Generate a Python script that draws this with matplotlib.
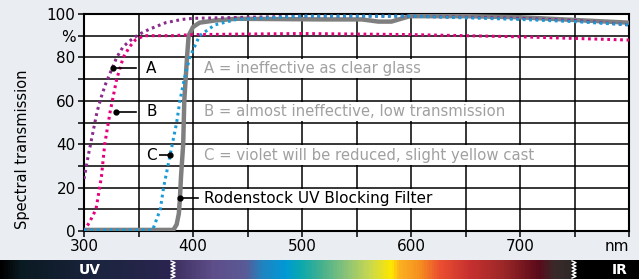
import numpy as np
import matplotlib.pyplot as plt
from matplotlib.colors import LinearSegmentedColormap

# curve data (wavelength nm, transmission %)
wl_a = [300, 304, 308, 312, 316, 320, 325, 330, 336, 343, 350, 360, 375, 390, 400, 500, 600, 700, 750, 800]
tr_a = [24, 35, 45, 55, 62, 68, 74, 80, 85, 88, 90.5, 93, 96, 97.5, 98, 99, 99, 98, 97, 95]

wl_b = [300, 305, 311, 316, 319, 324, 326, 330, 336, 342, 347, 355, 380, 400, 500, 600, 700, 800]
tr_b = [0, 4, 10, 25, 40, 55, 60, 70, 80, 85, 88, 90, 90, 90.5, 91, 90.5, 89.5, 88]

wl_c = [300, 363, 370, 373, 379, 381, 385, 388, 392, 397, 406, 420, 440, 500, 600, 700, 750, 800]
tr_c = [0.5, 0.5, 10, 20, 35, 40, 50, 60, 70, 80, 90, 95, 97.5, 99, 99, 97.5, 96.5, 95]

wl_r = [300, 382, 385, 387, 388, 389, 391, 392, 394.5, 396, 400, 406, 420, 440, 520, 555, 570, 582, 599, 650, 700, 800]
tr_r = [0.5, 0.5, 3, 8, 15, 25, 40, 60, 80, 90, 94, 96, 97, 97.8, 97.5, 97.5, 96.5, 96.5, 99, 99, 98.5, 96]

labels_grey = ["A = ineffective as clear glass",
               "B = almost ineffective, low transmission",
               "C = violet will be reduced, slight yellow cast"]

spec_pos = [0, 20, 100, 170, 172, 213, 245, 262, 285, 300, 320, 345, 370, 392, 400, 420, 440, 470, 505, 540, 556, 572, 575, 639]
spec_col = ['#000000', '#0a1a22', '#1c2440', '#2a2450', '#3c2f5e', '#5e4e8a', '#5a5a96', '#2084c0',
            '#0099d6', '#0aa8b0', '#40b090', '#86c27a', '#c8d850', '#ffe800', '#fcb020', '#f59020',
            '#ec5030', '#c83030', '#9c2828', '#5a0a1a', '#3a2a2a', '#302828', '#000000', '#000000']

plt.rcParams['font.family'] = ['DejaVu Sans']
fig = plt.figure(figsize=(6.39, 2.79), dpi=100, facecolor='#eaeef2')

# spectrum bar along the bottom
bar = fig.add_axes([0, 0, 1, 19/279])
cmap = LinearSegmentedColormap.from_list('spec', list(zip(np.array(spec_pos)/639, spec_col)))
bar.imshow(np.linspace(0, 1, 639)[None, :], aspect='auto', cmap=cmap, extent=[0, 639, 0, 1])
bar.set_xlim(0, 639)
bar.set_ylim(0, 1)
bar.axis('off')
for x0 in [173, 574]:
    zy = np.linspace(0.05, 0.95, 11)
    zx = x0 + np.where(np.arange(11) % 2 == 0, -2, 2)
    bar.plot(zx, zy, color='white', lw=1)
bar.text(90, 0.45, 'UV', color='white', fontsize=10, ha='center', va='center', fontweight='bold')
bar.text(620, 0.45, 'IR', color='white', fontsize=10, ha='center', va='center', fontweight='bold')

ax = fig.add_axes([84/639, 48/279, 545/639, 217/279])
ax.set_xlim(300, 800)
ax.set_ylim(0, 100)
ax.set_xticks(np.arange(300, 801, 50))
ax.set_xticklabels(['300', '', '400', '', '500', '', '600', '', '700', '', ''])
ax.set_yticks(np.arange(0, 101, 10))
ax.set_yticklabels(['0', '', '20', '', '40', '', '60', '', '80', '%', '100'])
ax.grid(True, color='black', lw=1.1)
ax.set_axisbelow(True)
for s in ax.spines.values():
    s.set_linewidth(1.5)
ax.tick_params(direction='out', length=4, width=1.1, labelsize=11, pad=2)
ax.text(800, -3.5, 'nm', ha='right', va='top', fontsize=11)
ax.set_ylabel('Spectral transmission', fontsize=10.5)
ax.yaxis.set_label_coords(-0.099, 0.378)

ax.plot(wl_r, tr_r, color='#7f7f7f', lw=3.2, solid_capstyle='butt', zorder=3)
ax.plot(wl_a, tr_a, color='#8a2b8c', lw=2.2, ls=(0, (0.9, 1.2)), zorder=4)
ax.plot(wl_b, tr_b, color='#e6007e', lw=2.2, ls=(0, (0.9, 1.2)), zorder=4)
ax.plot(wl_c, tr_c, color='#1a9ad7', lw=2.2, ls=(0, (0.9, 1.2)), zorder=4)

box = dict(boxstyle='square,pad=0.15', fc='white', ec='none')
# A
ax.plot([327, 347.5], [75, 75], color='black', lw=1.2, zorder=5)
ax.plot(327, 75, 'o', color='black', ms=3.5, zorder=6)
ax.text(357, 75, 'A', fontsize=11, va='center', ha='left', bbox=box, zorder=5)
# B
ax.plot([329, 348], [55, 55], color='black', lw=1.2, zorder=5)
ax.plot(329, 55, 'o', color='black', ms=3.5, zorder=6)
ax.text(357, 55, 'B', fontsize=11, va='center', ha='left', bbox=box, zorder=5)
# C
ax.plot([369, 379], [35, 35], color='black', lw=1.2, zorder=5)
ax.plot(379, 35, 'o', color='black', ms=3.5, zorder=6)
ax.text(366.5, 35, 'C', fontsize=11, va='center', ha='right', bbox=box, zorder=5)
# Rodenstock
ax.plot([388, 405], [15, 15], color='black', lw=1.2, zorder=5)
ax.plot(388, 15, 'o', color='black', ms=3.5, zorder=6)
ax.text(410, 15, 'Rodenstock UV Blocking Filter', fontsize=11, va='center', ha='left', bbox=box, zorder=5)

for lab, yv in zip(labels_grey, [75, 55, 35]):
    ax.text(410, yv, lab, fontsize=10.7, color='#a0a0a0', va='center', ha='left', bbox=box, zorder=5)

fig.savefig('out.png', dpi=100, facecolor=fig.get_facecolor())
